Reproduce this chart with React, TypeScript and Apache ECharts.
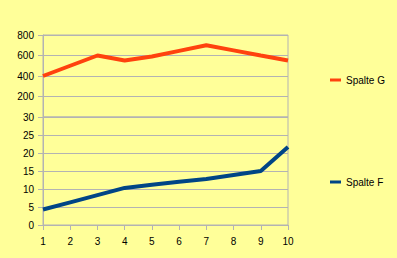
import React, { useEffect, useRef } from "react";
import * as echarts from "echarts";

const categories = ["1", "2", "3", "4", "5", "6", "7", "8", "9", "10"];
const spalteG = [400, 500, 600, 552, 590, 645, 700, 650, 600, 552];
const spalteF = [4.3, 6.3, 8.3, 10.3, 11.2, 12, 12.8, 13.9, 15, 21.7];
const upperTicks = { min: 0, max: 800, interval: 200 };
const lowerTicks = { min: 0, max: 30, interval: 5 };

const FONT = "'Liberation Sans', Arial, sans-serif";
const GRID = "#b3b3b3";
const BG = "#ffff99";

export default function App() {
  const ref = useRef<HTMLDivElement>(null);
  useEffect(() => {
    if (!ref.current) return;
    const chart = echarts.init(ref.current, null, { renderer: "svg" });
    const yCommon = {
      type: "value" as const,
      axisLine: { show: true, lineStyle: { color: GRID, width: 1 } },
      axisTick: { show: true, inside: false, length: 5, lineStyle: { color: GRID } },
      splitLine: { show: true, lineStyle: { color: GRID, width: 1 } },
    };
    const labelStyle = { color: "#000", fontSize: 10, fontFamily: FONT, margin: 9 };
    chart.setOption({
      animation: false,
      backgroundColor: BG,
      textStyle: { fontFamily: FONT },
      grid: [
        { left: 43, top: 35, width: 245, height: 82, show: true, borderColor: GRID, borderWidth: 1, backgroundColor: "transparent" },
        { left: 43, top: 117, width: 245, height: 108, show: true, borderColor: GRID, borderWidth: 1, backgroundColor: "transparent" },
      ],
      xAxis: [
        {
          gridIndex: 0,
          type: "category",
          data: categories,
          boundaryGap: false,
          axisLine: { show: false },
          axisTick: { show: false },
          axisLabel: { show: false },
          splitLine: { show: false },
        },
        {
          gridIndex: 1,
          type: "category",
          data: categories,
          boundaryGap: false,
          axisLine: { show: true, lineStyle: { color: GRID } },
          axisTick: { show: true, inside: false, length: 5, lineStyle: { color: GRID } },
          axisLabel: { color: "#000", fontSize: 10, fontFamily: FONT, margin: 11 },
          splitLine: { show: false },
        },
      ],
      yAxis: [
        {
          ...yCommon,
          gridIndex: 0,
          ...upperTicks,
          axisLabel: { ...labelStyle, formatter: (v: number) => (v === 0 ? "" : String(v)) },
        },
        { ...yCommon, gridIndex: 1, ...lowerTicks, axisLabel: labelStyle },
      ],
      legend: [
        {
          data: ["Spalte G"],
          left: 325,
          top: 70,
          icon: "rect",
          itemWidth: 11,
          itemHeight: 3,
          textStyle: { color: "#000", fontSize: 10, fontFamily: FONT },
        },
        {
          data: ["Spalte F"],
          left: 325,
          top: 172,
          icon: "rect",
          itemWidth: 11,
          itemHeight: 3,
          textStyle: { color: "#000", fontSize: 10, fontFamily: FONT },
        },
      ],
      series: [
        {
          name: "Spalte G",
          type: "line",
          xAxisIndex: 0,
          yAxisIndex: 0,
          data: spalteG,
          showSymbol: false,
          color: "#ff420e",
          lineStyle: { width: 4, color: "#ff420e" },
        },
        {
          name: "Spalte F",
          type: "line",
          xAxisIndex: 1,
          yAxisIndex: 1,
          data: spalteF,
          showSymbol: false,
          color: "#004586",
          lineStyle: { width: 4, color: "#004586" },
        },
      ],
    });
    return () => chart.dispose();
  }, []);
  return <div ref={ref} style={{ width: 397, height: 258, position: "absolute", left: 0, top: 0 }} />;
}
